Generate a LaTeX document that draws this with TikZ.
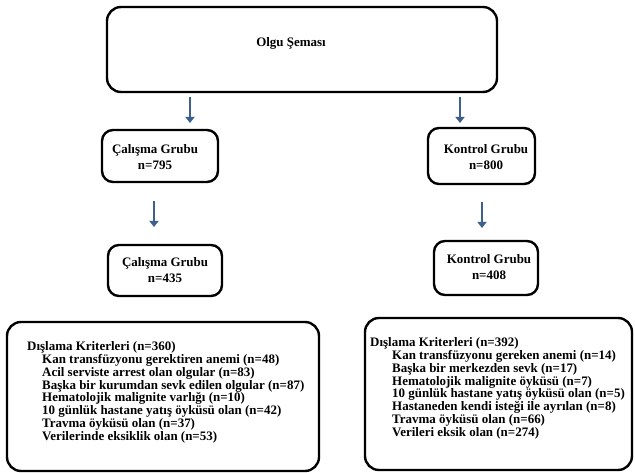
\documentclass[tikz,border=0pt]{standalone}
\usepackage{fontspec}
\setmainfont{Liberation Serif}
\usetikzlibrary{arrows.meta}
\definecolor{okmavi}{RGB}{62,96,140}

\begin{document}
\begin{tikzpicture}[x=1bp, y=-1bp,
    kutu/.style={draw, line width=2.4bp, rounded corners=11bp, inner sep=0pt},
    yazi/.style={inner sep=0pt, align=center, font=\fontsize{13}{16}\selectfont\bfseries},
    liste/.style={inner sep=0pt, align=left, anchor=north west, font=\fontsize{13}{13}\selectfont\bfseries},
    ok/.style={draw=okmavi, line width=2.6bp, -{Triangle[width=9bp, length=6bp]}}]
      \useasboundingbox (0,0) rectangle (635,473);

      % kutular
      \node[kutu, rounded corners=14bp, minimum width=390bp, minimum height=85bp] (sema) at (302,49.5) {};
      \node[kutu, minimum width=116bp, minimum height=52bp] (calisma1) at (160,156) {};
      \node[kutu, minimum width=107bp, minimum height=56bp] (kontrol1) at (481.5,156) {};
      \node[kutu, minimum width=114bp, minimum height=51bp] (calisma2) at (165,270.5) {};
      \node[kutu, minimum width=104bp, minimum height=54bp] (kontrol2) at (486,268) {};
      \node[kutu, rounded corners=14bp, minimum width=312bp, minimum height=149bp] (dislama1) at (163,396.5) {};
      \node[kutu, rounded corners=14bp, minimum width=267bp, minimum height=152bp] (dislama2) at (498.5,394) {};

      % yazilar
      \node[yazi] (semayazi) at (291,43) {Olgu Şeması};
      \node[yazi] (calisma1yazi) at (155,157) {Çalışma Grubu\\n=795};
      \node[yazi] (kontrol1yazi) at (486,157) {Kontrol Grubu\\n=800};
      \node[yazi] (calisma2yazi) at (165,270.5) {Çalışma Grubu\\n=435};
      \node[yazi] (kontrol2yazi) at (489,267.5) {Kontrol Grubu\\n=408};

      \node[liste] (dislama1yazi) at (27,341) {Dışlama Kriterleri (n=360)\\
        \hspace*{15bp}Kan transfüzyonu gerektiren anemi (n=48)\\
        \hspace*{15bp}Acil serviste arrest olan olgular (n=83)\\
        \hspace*{15bp}Başka bir kurumdan sevk edilen olgular (n=87)\\
        \hspace*{15bp}Hematolojik malignite varlığı (n=10)\\
        \hspace*{15bp}10 günlük hastane yatış öyküsü olan (n=42)\\
        \hspace*{15bp}Travma öyküsü olan (n=37)\\
        \hspace*{15bp}Verilerinde eksiklik olan (n=53)};
      \node[liste] (dislama2yazi) at (370,337) {Dışlama Kriterleri (n=392)\\
        \hspace*{22bp}Kan transfüzyonu gereken anemi (n=14)\\
        \hspace*{22bp}Başka bir merkezden sevk (n=17)\\
        \hspace*{22bp}Hematolojik malignite öyküsü (n=7)\\
        \hspace*{22bp}10 günlük hastane yatış öyküsü olan (n=5)\\
        \hspace*{22bp}Hastaneden kendi isteği ile ayrılan (n=8)\\
        \hspace*{22bp}Travma öyküsü olan (n=66)\\
        \hspace*{22bp}Verileri eksik olan (n=274)};

      % oklar
      \coordinate (ok1) at (190,97);
      \coordinate (ok2) at (460,97);
      \coordinate (ok3) at (154,201);
      \coordinate (ok4) at (482,202);
      \draw[ok] (ok1) -- (ok1 |- 0,123);
      \draw[ok] (ok2) -- (ok2 |- 0,123);
      \draw[ok] (ok3) -- (ok3 |- 0,227);
      \draw[ok] (ok4) -- (ok4 |- 0,228);
    \end{tikzpicture}
\end{document}
